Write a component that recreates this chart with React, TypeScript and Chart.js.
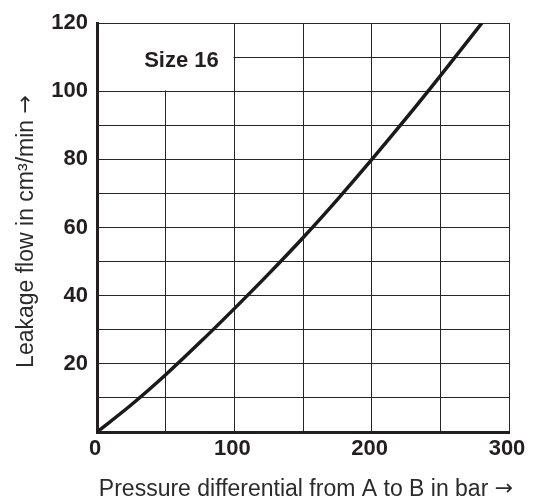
import React, { useEffect, useRef } from "react";
import { Chart, registerables } from "chart.js";

Chart.register(...registerables);

// Pressure differential (bar) and leakage flow (cm³/min)
const pressure = [0, 25, 50, 75, 100, 125, 150, 175, 200, 225, 250, 280.3];
const leakage = [0, 8.0, 16.8, 26.3, 36.2, 46.4, 57.0, 68.2, 79.9, 92.0, 104.5, 120];

const xTickLabels = [0, 100, 200, 300];
const yTickLabels = [20, 40, 60, 80, 100, 120];

const sizeLabel = "Size 16";
const xTitle = "Pressure differential from A to B in bar";
const yTitle = "Leakage flow in cm\u00b3/min";
const arrow = "\u2192";

const INK = "#231f20";
const GRID = "#262626";
const SANS = "'Liberation Sans', Arial, sans-serif";

const sizeBoxPlugin = {
  id: "sizeBox",
  beforeDatasetsDraw(chart: any) {
    const { ctx, scales } = chart;
    const xs = scales.x;
    const ys = scales.y;
    const left = xs.getPixelForValue(0) + 2;
    const right = Math.round(xs.getPixelForValue(100)) - 0.5;
    const top = Math.round(ys.getPixelForValue(120)) + 1;
    const bottom = Math.round(ys.getPixelForValue(100)) - 0.5;
    ctx.save();
    ctx.fillStyle = "#ffffff";
    ctx.fillRect(left, top, right - left, bottom - top);
    ctx.fillStyle = INK;
    ctx.font = `bold 22px ${SANS}`;
    ctx.textAlign = "center";
    ctx.textBaseline = "middle";
    ctx.fillText(sizeLabel, xs.getPixelForValue(61.5), ys.getPixelForValue(108.8));
    ctx.restore();
  },
};

function drawTitleWithArrow(ctx: CanvasRenderingContext2D, text: string, cx: number, baseline: number) {
  ctx.font = `23px ${SANS}`;
  const wText = ctx.measureText(text + " ").width;
  ctx.font = `22px 'DejaVu Sans', sans-serif`;
  const wArrow = ctx.measureText(arrow).width;
  const start = cx - (wText + wArrow) / 2;
  ctx.textAlign = "left";
  ctx.textBaseline = "alphabetic";
  ctx.font = `23px ${SANS}`;
  ctx.fillText(text + " ", start, baseline);
  ctx.font = `22px 'DejaVu Sans', sans-serif`;
  ctx.fillText(arrow, start + wText, baseline - 1);
}

const titlesPlugin = {
  id: "axisTitles",
  afterDraw(chart: any) {
    const { ctx, chartArea } = chart;
    ctx.save();
    ctx.fillStyle = "#2b2b2b";
    const cx = (chartArea.left + chartArea.right) / 2 + 3;
    drawTitleWithArrow(ctx, xTitle, cx, 495.5);
    ctx.translate(33, (chartArea.top + chartArea.bottom) / 2 + 4);
    ctx.rotate(-Math.PI / 2);
    drawTitleWithArrow(ctx, yTitle, 0, 0);
    ctx.restore();
  },
};

export default function App() {
  const ref = useRef<HTMLCanvasElement | null>(null);

  useEffect(() => {
    if (!ref.current) return;
    const chart = new Chart(ref.current, {
      type: "scatter",
      data: {
        datasets: [
          {
            data: pressure.map((p, i) => ({ x: p, y: leakage[i] })),
            showLine: true,
            borderColor: "#1a1a1a",
            borderWidth: 3.5,
            pointRadius: 0,
            cubicInterpolationMode: "monotone",
            fill: false,
          },
        ],
      },
      options: {
        responsive: false,
        animation: false,
        layout: { padding: { left: 0, right: 26, top: 23, bottom: 0 } },
        plugins: {
          legend: { display: false },
          tooltip: { enabled: false },
        },
        scales: {
          x: {
            type: "linear",
            min: 0,
            max: 300,
            afterFit: (s: any) => {
              s.height = 71;
            },
            ticks: {
              stepSize: 50,
              padding: 4,
              labelOffset: -2,
              color: INK,
              font: { family: SANS, size: 22, weight: "bold" },
              callback: (v: any) => (xTickLabels.includes(Number(v)) ? String(v) : ""),
              maxRotation: 0,
              autoSkip: false,
            },
            grid: { color: GRID, lineWidth: 1, drawTicks: false },
            border: { display: true, color: INK, width: 3 },
          },
          y: {
            type: "linear",
            min: 0,
            max: 120,
            afterFit: (s: any) => {
              s.width = 97;
            },
            ticks: {
              stepSize: 10,
              padding: 9,
              color: INK,
              font: { family: SANS, size: 22, weight: "bold" },
              callback: (v: any) => (yTickLabels.includes(Number(v)) ? String(v) : ""),
              autoSkip: false,
            },
            grid: { color: GRID, lineWidth: 1, drawTicks: false },
            border: { display: true, color: INK, width: 3 },
          },
        },
      },
      plugins: [sizeBoxPlugin, titlesPlugin],
    } as any);
    return () => chart.destroy();
  }, []);

  return (
    <div style={{ position: "absolute", left: 0, top: 0, width: 535, height: 503, background: "#fff" }}>
      <canvas ref={ref} width={535} height={503} style={{ display: "block" }} />
    </div>
  );
}
